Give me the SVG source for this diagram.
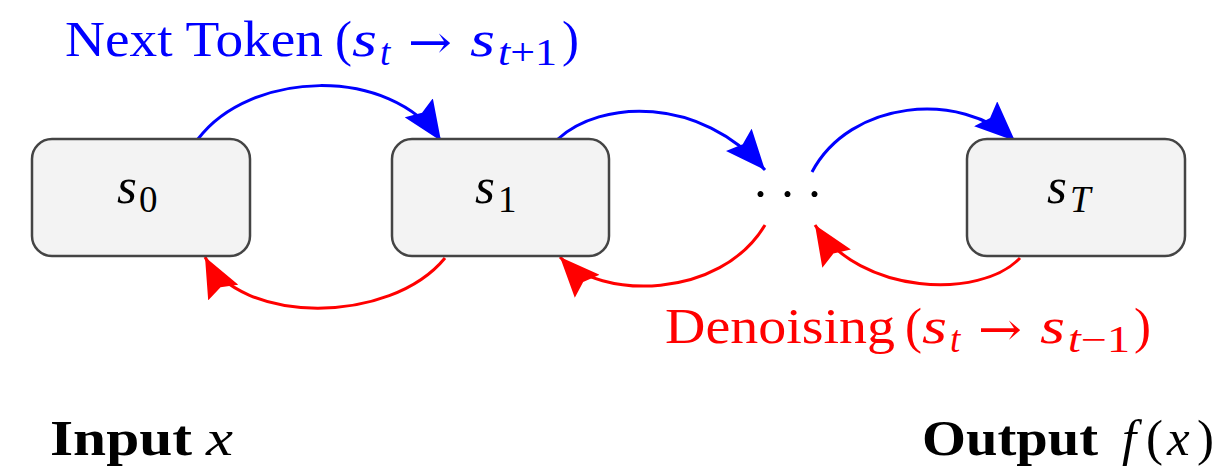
<svg xmlns="http://www.w3.org/2000/svg" width="1230" height="471" viewBox="0 0 1230 471">
<style>
.box{fill:#f3f3f3;stroke:#444;stroke-width:2.5}
.t{font-family:"Liberation Serif",serif;font-size:51px}
.sub{font-size:37px}
.it{font-style:italic}
.b{font-weight:bold}
.ar{font-family:"DejaVu Serif",serif;font-size:46px}
.blue{fill:#0000ff}
.red{fill:#ff0000}
.cb{fill:none;stroke:#0000ff;stroke-width:3}
.cr{fill:none;stroke:#ff0000;stroke-width:3}
</style>
<defs>
<marker id="ab" markerUnits="userSpaceOnUse" markerWidth="42" markerHeight="34" refX="40" refY="17" orient="auto"><path d="M0,0 L40,17 L0,34 L6,17 Z" fill="#0000ff"/></marker>
<marker id="ar" markerUnits="userSpaceOnUse" markerWidth="42" markerHeight="34" refX="40" refY="17" orient="auto"><path d="M0,0 L40,17 L0,34 L6,17 Z" fill="#ff0000"/></marker>
</defs>
<g id="connectors">
<path class="cb" d="M198,139 C250,70 390,65 441,141" marker-end="url(#ab)"/>
<path class="cb" d="M558,139 C600,100 700,95 765,170" marker-end="url(#ab)"/>
<path class="cb" d="M812,172 C850,100 960,90 1015,141" marker-end="url(#ab)"/>
<path class="cr" d="M445,258 C390,325 240,325 205,257" marker-end="url(#ar)"/>
<path class="cr" d="M765,225 C720,300 600,300 560,257" marker-end="url(#ar)"/>
<path class="cr" d="M1020,258 C980,300 860,295 815,225" marker-end="url(#ar)"/>
</g>
<g id="s0">
<rect class="box" x="32" y="139" width="218" height="117" rx="20"/>
<text class="t" y="203"><tspan class="it" x="117">s</tspan><tspan class="sub" x="139" y="212">0</tspan></text>
</g>
<g id="s1">
<rect class="box" x="392" y="139" width="217" height="117" rx="20"/>
<text class="t" y="203"><tspan class="it" x="475">s</tspan><tspan class="sub" x="498" y="212">1</tspan></text>
</g>
<g id="dots">
<text class="t" x="752 779 806" y="211">···</text>
</g>
<g id="sT">
<rect class="box" x="967" y="139" width="218" height="117" rx="20"/>
<text class="t it" y="203"><tspan x="1047">s</tspan><tspan class="sub" x="1070" y="212">T</tspan></text>
</g>
<g id="label-next" class="t blue">
<text x="65" y="56" textLength="258" lengthAdjust="spacingAndGlyphs">Next Token</text>
<text x="335" y="56">(</text>
<text class="it" x="352" y="56" textLength="25" lengthAdjust="spacingAndGlyphs">s</text>
<text class="it sub" x="380" y="65">t</text>
<text class="ar" x="408" y="58" textLength="44" lengthAdjust="spacingAndGlyphs">→</text>
<text class="it" x="470" y="56" textLength="25" lengthAdjust="spacingAndGlyphs">s</text>
<text class="sub" x="498" y="65" textLength="59" lengthAdjust="spacingAndGlyphs"><tspan class="it">t</tspan>+1</text>
<text x="562" y="56">)</text>
</g>
<g id="label-denoise" class="t red">
<text x="665" y="343" textLength="230" lengthAdjust="spacingAndGlyphs">Denoising</text>
<text x="905" y="343">(</text>
<text class="it" x="922" y="343" textLength="25" lengthAdjust="spacingAndGlyphs">s</text>
<text class="it sub" x="950" y="352">t</text>
<text class="ar" x="978" y="345" textLength="44" lengthAdjust="spacingAndGlyphs">→</text>
<text class="it" x="1040" y="343" textLength="25" lengthAdjust="spacingAndGlyphs">s</text>
<text class="sub" x="1068" y="352" textLength="62" lengthAdjust="spacingAndGlyphs"><tspan class="it">t</tspan>−1</text>
<text x="1134" y="343">)</text>
</g>
<g id="input">
<text class="t b" x="50" y="455" textLength="142" lengthAdjust="spacingAndGlyphs">Input</text>
<text class="t it" x="206" y="455" textLength="27" lengthAdjust="spacingAndGlyphs">x</text>
</g>
<g id="output">
<text class="t b" x="922" y="455" textLength="176" lengthAdjust="spacingAndGlyphs">Output</text>
<text class="t" y="455"><tspan class="it" x="1122">f</tspan><tspan x="1146">(</tspan><tspan class="it" x="1167">x</tspan><tspan x="1197">)</tspan></text>
</g>
</svg>
